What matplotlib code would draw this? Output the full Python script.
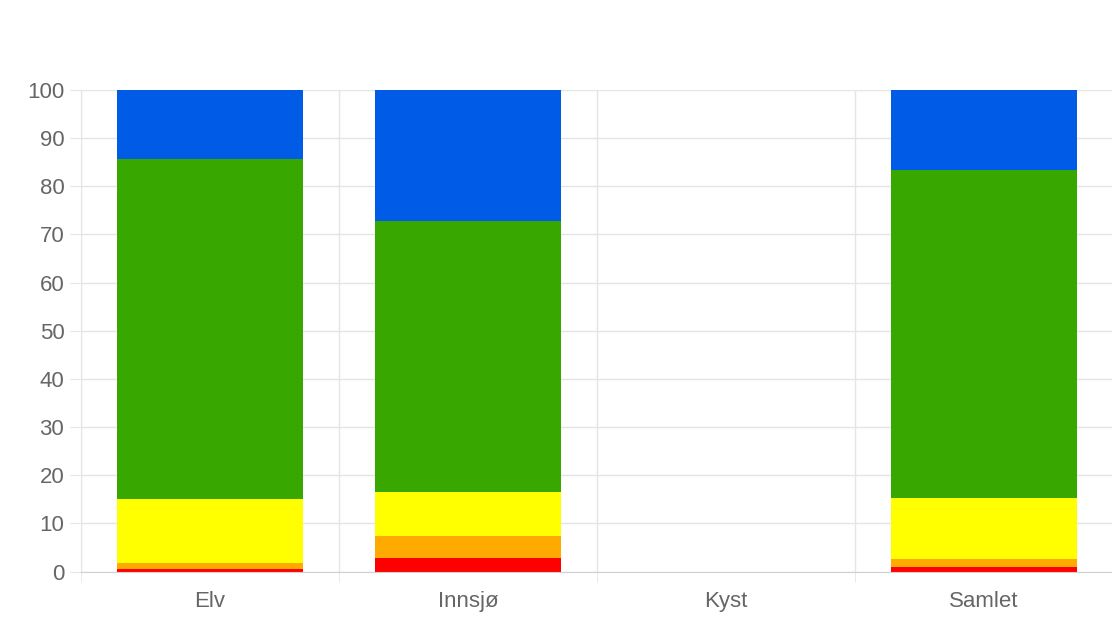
import numpy as np
import matplotlib
matplotlib.use("Agg")
from matplotlib import pyplot as plt

categories = ["Elv", "Innsjø", "Kyst", "Samlet"]
red = [0.5, 2.9, 0, 0.9]
orange = [1.2, 4.5, 0, 1.7]
yellow = [13.4, 9.1, 0, 12.7]
green = [70.6, 56.3, 0, 68.1]
blue = [14.3, 27.2, 0, 16.6]

series = [red, orange, yellow, green, blue]
colors = ["#ff0000", "#ffaa00", "#ffff00", "#38a800", "#005ce6"]

plt.rcParams['font.family'] = ['Liberation Sans', 'DejaVu Sans']

fig = plt.figure(figsize=(11.12, 6.21), dpi=100)
ax = fig.add_axes([81 / 1112, 49.5 / 621, 1032 / 1112, 481.5 / 621])

x = np.arange(len(categories))
bottom = np.zeros(len(categories))
for vals, c in zip(series, colors):
    ax.bar(x, vals, width=0.72, bottom=bottom, color=c, zorder=2)
    bottom += np.array(vals)

ax.set_xlim(-0.5, 3.5)
ax.set_ylim(0, 100)
ax.set_yticks(np.arange(0, 101, 10))
ax.set_xticks(x)
ax.set_xticklabels(categories)

# grid lines between categories, like chart.js offset grid
ax.set_xticks(np.arange(-0.5, 3.6, 1), minor=True)
ax.grid(axis='x', which='minor', color='#e5e5e5', lw=1, zorder=0)
ax.grid(axis='y', color='#e5e5e5', lw=1, zorder=0)
ax.tick_params(axis='x', which='major', length=0, pad=14, labelsize=16, labelcolor='#666666')
ax.tick_params(axis='x', which='minor', length=7, color='#e5e5e5')
ax.tick_params(axis='y', length=8, color='#e5e5e5', pad=4, labelsize=16, labelcolor='#666666')

for s in ['top', 'right']:
    ax.spines[s].set_visible(False)
ax.spines['left'].set_color('#e5e5e5')
ax.spines['bottom'].set_color('#d0d0d0')

fig.savefig("out.png", dpi=100)
